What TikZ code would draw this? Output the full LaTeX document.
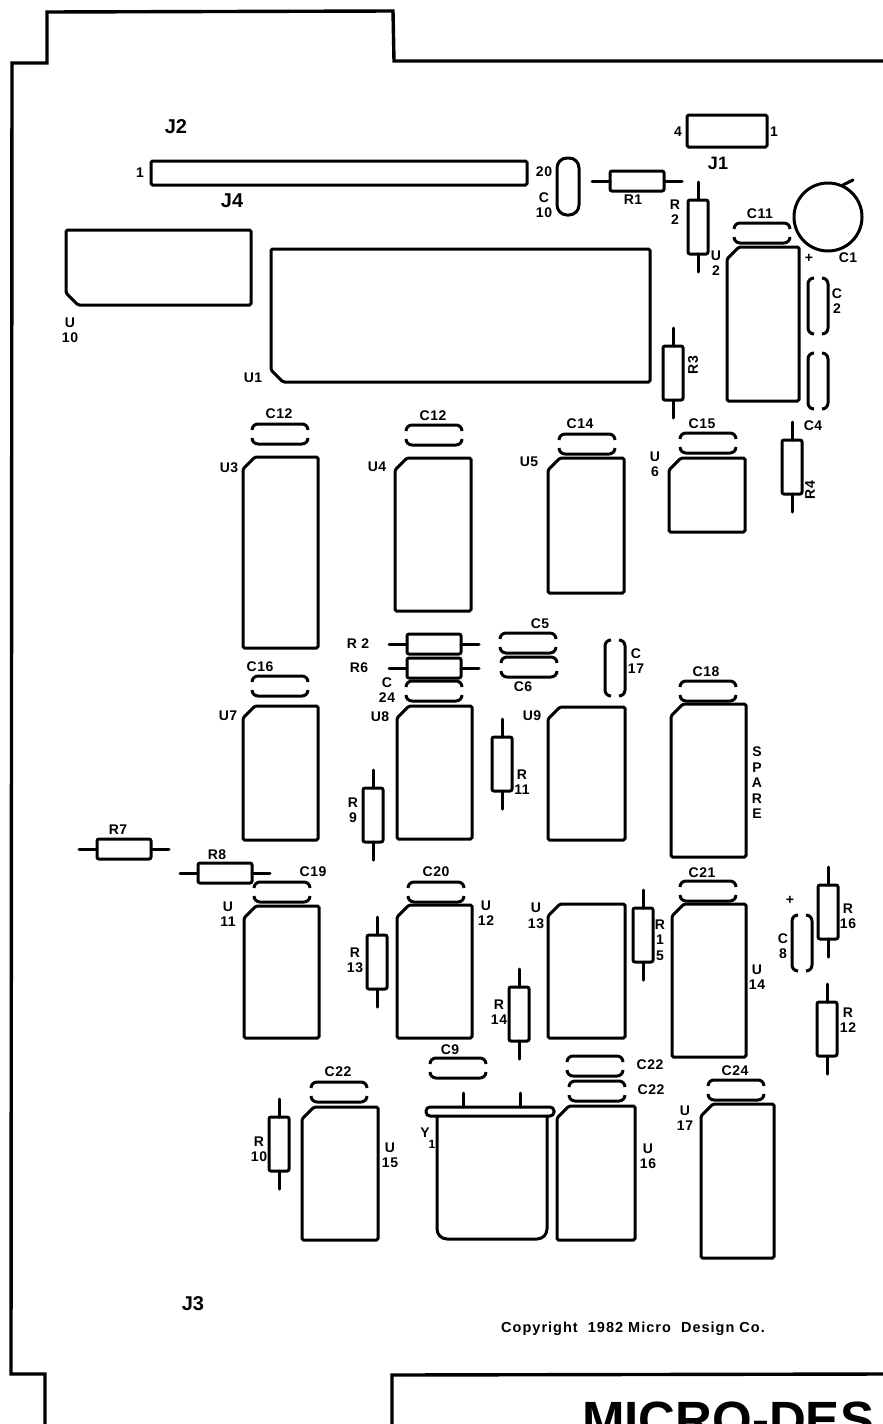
\documentclass[tikz,border=0pt]{standalone}
\usepackage{fontspec}
\setmainfont{Liberation Sans}

\tikzset{
    part/.style={line width=3pt, rounded corners=1.5pt, line cap=round},
    lbl/.style={font=\bfseries\fontsize{14}{15.5}\addfontfeatures{LetterSpace=4}\selectfont, inner sep=0pt, align=center},
    biglbl/.style={font=\bfseries\fontsize{20}{21}\selectfont, inner sep=0pt},
    cappart/.pic={
        \draw[part, line cap=butt, rounded corners=6pt] (-28,-4) -- (-28,-10) -- (28,-10) -- (28,-4);
        \draw[part, line cap=butt, rounded corners=6pt] (-28,4) -- (-28,10) -- (28,10) -- (28,4);
    },
    respart/.pic={
        \draw[part, rounded corners=2pt] (-27,-10) rectangle (27,10);
        \draw[part] (-45,0) -- (-27,0);
        \draw[part] (27,0) -- (45,0);
    }
}

% chip with the cut corner top left: left, top, right, bottom
\newcommand{\chip}[4]{\draw[part] (#1+12,#2) -- (#3,#2) -- (#3,#4) -- (#1,#4) -- (#1,#2+12) -- cycle;}

\begin{document}
\begin{tikzpicture}[x=1pt, y=-1pt]
    \useasboundingbox (0,0) rectangle (883,1424);
    \clip (0,0) rectangle (883,1424);

    % Board edge
    \draw[line width=3.4pt] (883,61) -- (394,61) -- (393,11) -- (47,12) -- (47,63) -- (12,63) -- (11,1374) -- (45,1374) -- (45,1424);
    \draw[line width=3.4pt] (392,1424) -- (392,1375) -- (883,1374);

    % Connectors
    \draw[part] (151,161) rectangle (527,185);
    \draw[part] (687,115) rectangle (767,147);
    \node[biglbl] (labJ2) at (176,127) {J2};
    \node[biglbl] (labJ4) at (232,201) {J4};
    \node[biglbl, font=\bfseries\fontsize{18}{19}\selectfont] (labJ1) at (718,163) {J1};
    \node[biglbl] (labJ3) at (193,1304) {J3};
    \node[lbl] (labPinA) at (140,173) {1};
    \node[lbl] (labPinB) at (544,172) {20};
    \node[lbl] (labPinC) at (678,132) {4};
    \node[lbl] (labPinD) at (774,132) {1};

    % Large chips
    \draw[part] (66,230) -- (251,230) -- (251,305) -- (78,305) -- (66,293) -- cycle;
    \draw[part] (271,249) -- (650,249) -- (650,382) -- (283,382) -- (271,370) -- cycle;
    \node[lbl] (labU10) at (70,330) {U\\10};
    \node[lbl] (labU1) at (253,378) {U1};

    % Chips
    \chip{727}{247}{799}{401}
    \chip{243}{457}{318}{648}
    \chip{395}{458}{471}{611}
    \chip{548}{458}{624}{593}
    \chip{669}{458}{745}{532}
    \chip{243}{706}{318}{840}
    \chip{397}{706}{472}{839}
    \chip{548}{707}{625}{840}
    \chip{671}{704}{746}{857}
    \chip{244}{906}{319}{1038}
    \chip{397}{905}{472}{1038}
    \chip{548}{904}{625}{1038}
    \chip{672}{904}{746}{1057}
    \chip{302}{1107}{378}{1240}
    \chip{557}{1106}{635}{1240}
    \chip{701}{1104}{774}{1258}
    \node[lbl] (labU2) at (716,263) {U\\2};
    \node[lbl] (labU3) at (229,468) {U3};
    \node[lbl] (labU4) at (377,467) {U4};
    \node[lbl] (labU5) at (529,462) {U5};
    \node[lbl] (labU6) at (655,464) {U\\6};
    \node[lbl] (labU7) at (228,716) {U7};
    \node[lbl] (labU8) at (380,717) {U8};
    \node[lbl] (labU9) at (532,716) {U9};
    \node[lbl] (labSpare) at (757,783) {S\\P\\A\\R\\E};
    \node[lbl] (labU11) at (228,914) {U\\11};
    \node[lbl] (labU12) at (486,913) {U\\12};
    \node[lbl] (labU13) at (536,916) {U\\13};
    \node[lbl] (labU14) at (757,977) {U\\14};
    \node[lbl] (labU15) at (390,1155) {U\\15};
    \node[lbl] (labU16) at (648,1156) {U\\16};
    \node[lbl] (labU17) at (685,1118) {U\\17};

    % Crystal
    \draw[part, rounded corners=4pt] (426,1107) rectangle (554,1116);
    \draw[part, rounded corners=10pt] (437,1116) -- (437,1239) -- (547,1239) -- (547,1116);
    \draw[part] (463,1093) -- (463,1107);
    \draw[part] (520,1093) -- (520,1107);
    \node[lbl] (labY) at (425,1133) {Y};
    \node[lbl, font=\bfseries\fontsize{12}{12}\selectfont] (labYsub) at (432,1144) {1};

    % Resistors
    \pic at (637,181) {respart};
    \pic[rotate=90] at (698,227) {respart};
    \pic[rotate=90] at (673,373) {respart};
    \pic[rotate=90] at (792,467) {respart};
    \pic at (434,644) {respart};
    \pic at (434,668) {respart};
    \pic[rotate=90] at (502,764) {respart};
    \pic[rotate=90] at (373,815) {respart};
    \pic at (124,849) {respart};
    \pic at (225,873) {respart};
    \pic[rotate=90] at (377,962) {respart};
    \pic[rotate=90] at (279,1144) {respart};
    \pic[rotate=90] at (643,935) {respart};
    \pic[rotate=90] at (828,912) {respart};
    \pic[rotate=90] at (827,1029) {respart};
    \pic[rotate=90] at (519,1014) {respart};
    \node[lbl] (labR1) at (633,200) {R1};
    \node[lbl] (labR2) at (675,212) {R\\2};
    \node[lbl, rotate=90] (labR3) at (693,365) {R3};
    \node[lbl, rotate=90] (labR4) at (810,490) {R4};
    \node[lbl] (labRb) at (358,644) {R 2};
    \node[lbl] (labR6) at (359,668) {R6};
    \node[lbl] (labR11) at (522,782) {R\\11};
    \node[lbl] (labR9) at (353,810) {R\\9};
    \node[lbl] (labR7) at (118,830) {R7};
    \node[lbl] (labR8) at (217,855) {R8};
    \node[lbl] (labR13) at (355,960) {R\\13};
    \node[lbl] (labR10) at (259,1149) {R\\10};
    \node[lbl] (labR15) at (660,940) {R\\1\\5};
    \node[lbl] (labR16) at (848,916) {R\\16};
    \node[lbl] (labR12) at (848,1020) {R\\12};
    \node[lbl] (labR14) at (499,1012) {R\\14};

    % Capacitors
    \draw[part, rounded corners=10pt] (557,158) rectangle (579,215);
    \draw[part] (828,217) circle (34);
    \draw[part] (843,185) -- (853,180);
    \pic at (762,233) {cappart};
    \pic[rotate=90] at (818,306) {cappart};
    \pic[rotate=90] at (818,381) {cappart};
    \pic at (280,434) {cappart};
    \pic at (434,435) {cappart};
    \pic at (587,444) {cappart};
    \pic at (708,443) {cappart};
    \pic at (434,691) {cappart};
    \pic at (528,643) {cappart};
    \pic at (529,667) {cappart};
    \pic[rotate=90] at (615,668) {cappart};
    \pic at (280,686) {cappart};
    \pic at (708,691) {cappart};
    \pic at (282,892) {cappart};
    \pic at (436,892) {cappart};
    \pic at (708,891) {cappart};
    \pic[rotate=90] at (802,943) {cappart};
    \pic at (339,1092) {cappart};
    \pic at (458,1068) {cappart};
    \pic at (595,1066) {cappart};
    \pic at (597,1091) {cappart};
    \pic at (736,1090) {cappart};
    \node[lbl] (labC1) at (848,258) {C1};
    \node[lbl] (labPlusA) at (809,258) {+};
    \node[lbl] (labC2) at (837,301) {C\\2};
    \node[lbl] (labC4) at (813,426) {C4};
    \node[lbl] (labC10) at (544,205) {C\\10};
    \node[lbl] (labC11) at (760,214) {C11};
    \node[lbl] (labC12a) at (279,414) {C12};
    \node[lbl] (labC12b) at (433,416) {C12};
    \node[lbl] (labC14) at (580,424) {C14};
    \node[lbl] (labC15) at (702,424) {C15};
    \node[lbl] (labC5) at (540,624) {C5};
    \node[lbl] (labC6) at (523,687) {C6};
    \node[lbl] (labC24a) at (387,690) {C\\24};
    \node[lbl] (labC17) at (636,661) {C\\17};
    \node[lbl] (labC16) at (260,667) {C16};
    \node[lbl] (labC18) at (706,672) {C18};
    \node[lbl] (labC19) at (313,872) {C19};
    \node[lbl] (labC20) at (436,872) {C20};
    \node[lbl] (labC21) at (702,873) {C21};
    \node[lbl] (labPlusB) at (790,900) {+};
    \node[lbl] (labC8) at (783,946) {C\\8};
    \node[lbl] (labC22a) at (338,1072) {C22};
    \node[lbl] (labC9) at (450,1050) {C9};
    \node[lbl] (labC22b) at (650,1065) {C22};
    \node[lbl] (labC22c) at (651,1090) {C22};
    \node[lbl] (labC24b) at (735,1071) {C24};

    % Copyright and title
    \node[anchor=west, inner sep=0pt, font=\bfseries\fontsize{14.5}{16}\addfontfeatures{LetterSpace=7}\selectfont] (labCopy) at (501,1329) {Copyright\ \ 1982 Micro\ \ Design Co.};
    \node[anchor=base west, inner sep=0pt, font=\bfseries\fontsize{51}{51}\selectfont] (labTitle) at (582,1437) {MICRO-DES};
\end{tikzpicture}
\end{document}
